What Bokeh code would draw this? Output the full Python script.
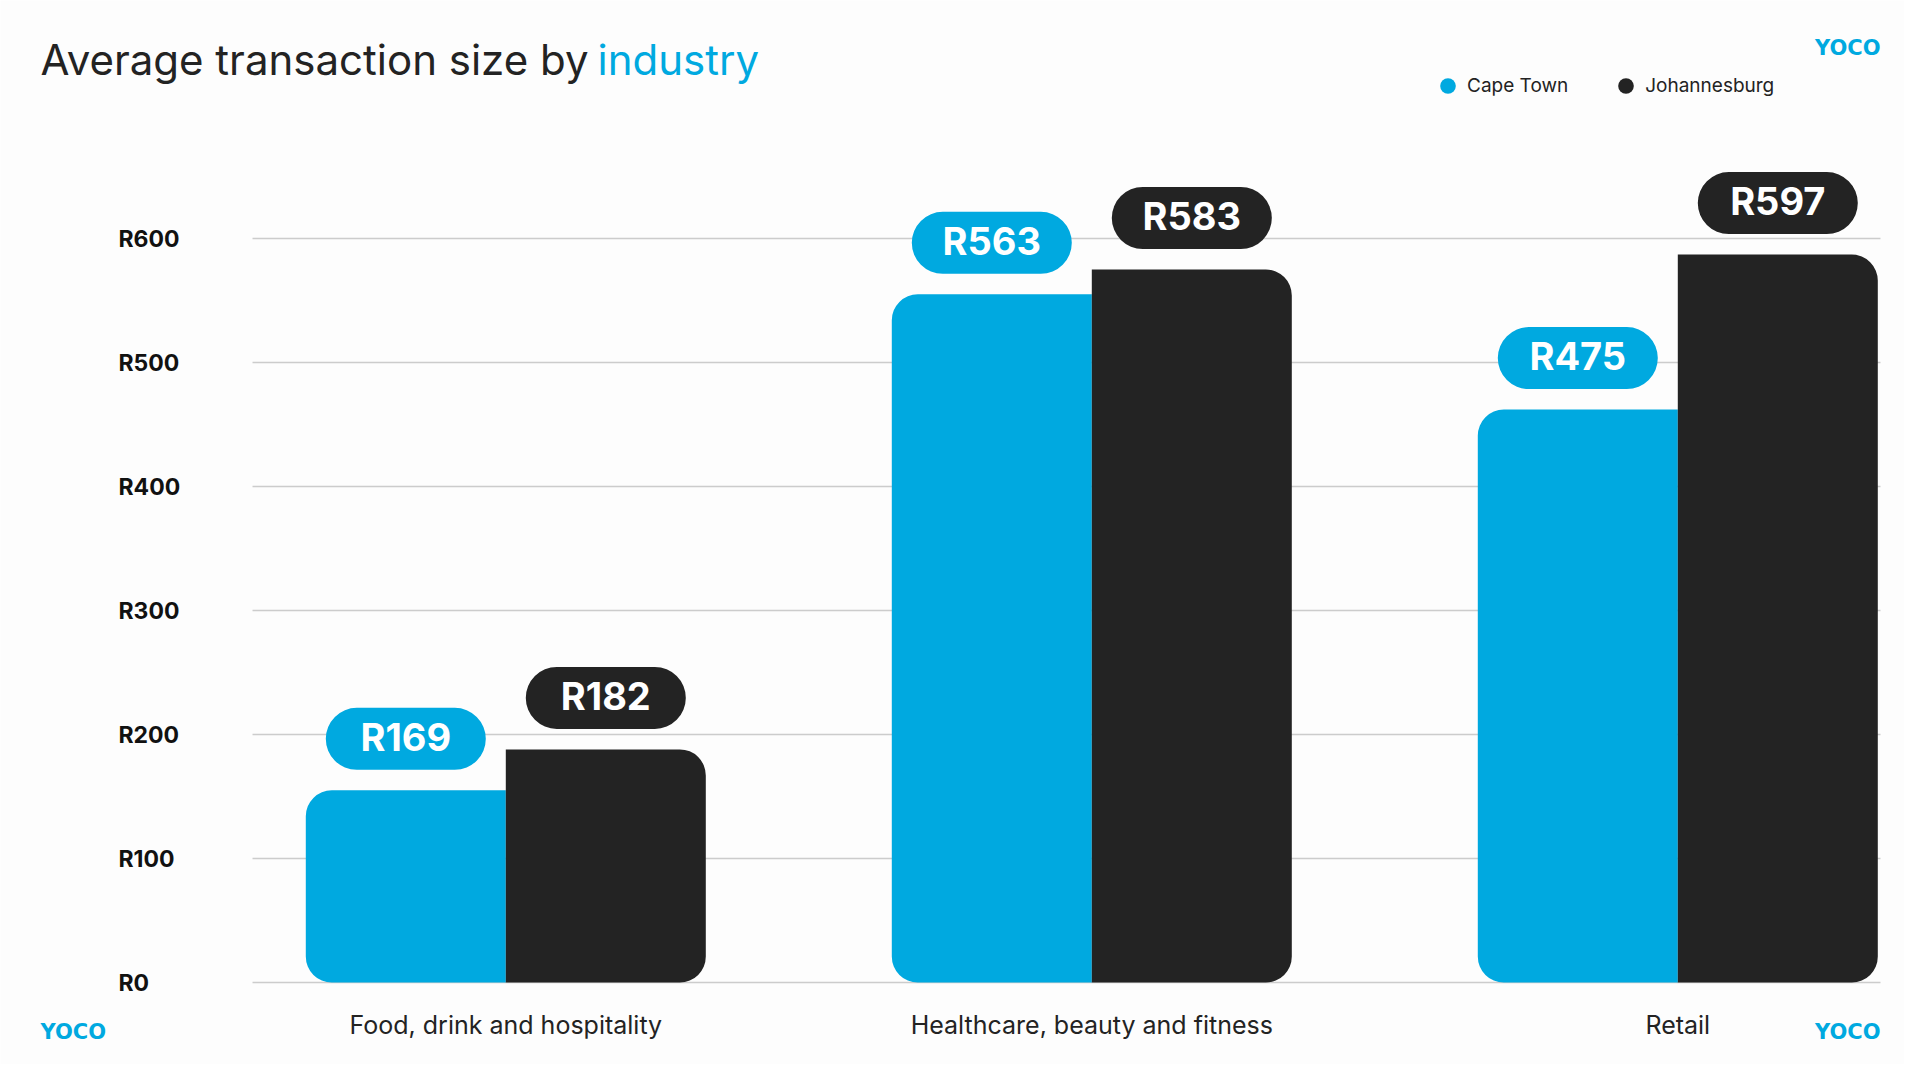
from bokeh.plotting import figure
from bokeh.models import (Range1d, FixedTicker, Label, Legend, LegendItem,
                          ColumnDataSource, Grid)
from bokeh.transform import dodge
from bokeh.core.properties import value
from bokeh.embed import file_html
from bokeh.resources import INLINE

# ---------------- data ----------------
categories = ["Food, drink and hospitality", "Healthcare, beauty and fitness", "Retail"]
series = ["Cape Town", "Johannesburg"]
cape_town = [155, 555, 462]          # bar heights as drawn
johannesburg = [188, 575, 587]
cape_town_labels = ["R169", "R563", "R475"]
johannesburg_labels = ["R182", "R583", "R597"]
y_ticks = [0, 100, 200, 300, 400, 500, 600]
y_tick_labels = ["R0", "R100", "R200", "R300", "R400", "R500", "R600"]
title_main = "Average transaction size by"
title_accent = "industry"
brand = "YOCO"

# ---------------- styles / geometry ----------------
BLUE = "#00a9e0"
DARK = "#232323"
BG = "#fdfdfd"
FONT = "Inter"

W, H = 1904, 1064
PX_X = 586.0                 # px per category step
PX_Y = 1.24                  # px per rand
ZERO_X = 505.3               # canvas px of first category centre
ZERO_Y = 982.0               # canvas px of R0


def X(px):
    return (px - ZERO_X) / PX_X


def Y(py):
    return (ZERO_Y - py) / PX_Y


BAR_W = 200 / PX_X
OFF = BAR_W / 2
PILL_W = 160 / PX_X
PILL_GAP = 20.5 / PX_Y
PILL_H = 62 / PX_Y
TEXT_UP = (20.5 + 31 + 2) / PX_Y

idx = list(range(len(categories)))
src = ColumnDataSource(dict(
    x=idx,
    ct=cape_town,
    jb=johannesburg,
    ct_lab=cape_town_labels,
    jb_lab=johannesburg_labels,
    ct_pb=[v + PILL_GAP for v in cape_town],
    ct_pt=[v + PILL_GAP + PILL_H for v in cape_town],
    ct_ty=[v + TEXT_UP for v in cape_town],
    jb_pb=[v + PILL_GAP for v in johannesburg],
    jb_pt=[v + PILL_GAP + PILL_H for v in johannesburg],
    jb_ty=[v + TEXT_UP for v in johannesburg],
))

p = figure(width=W, height=H, output_backend="svg", toolbar_location=None,
           x_range=Range1d(X(0), X(W)), y_range=Range1d(Y(H), Y(0)),
           min_border_left=0, min_border_right=0, min_border_top=0,
           min_border_bottom=0)
p.background_fill_color = BG
p.border_fill_color = BG
p.outline_line_color = None
p.xaxis.visible = False
p.yaxis.visible = False
p.xgrid.visible = False
p.yaxis.ticker = FixedTicker(ticks=y_ticks)

# horizontal grid lines, from x=252 to x=1880
p.ygrid.ticker = FixedTicker(ticks=y_ticks)
p.ygrid.grid_line_color = "#cccccc"
p.ygrid.grid_line_width = 1.5
if "cross_bounds" in Grid.properties():
    p.ygrid.cross_bounds = (X(252), X(1880))
else:
    p.ygrid.visible = False
    p.segment(x0=[X(252)] * len(y_ticks), x1=[X(1880)] * len(y_ticks),
              y0=y_ticks, y1=y_ticks, line_color="#cccccc", line_width=1.5,
              level="underlay")

# y tick labels
p.text(x=[X(118)] * len(y_ticks), y=y_ticks, text=y_tick_labels,
       text_font=value(FONT), text_font_style="bold", text_font_size="23px",
       text_color="#111111", text_align="left", text_baseline="middle")

# category labels
p.text(x=idx, y=[Y(1024.5)] * len(idx), text=categories,
       text_font=value(FONT), text_font_size="25px", text_color=DARK,
       text_align="center", text_baseline="middle")

# bars
p.vbar(x=dodge("x", -OFF, range=p.x_range), top="ct", bottom=0, width=BAR_W,
       source=src, fill_color=BLUE, line_color=None, border_radius=(26, 0, 0, 26))
p.vbar(x=dodge("x", OFF, range=p.x_range), top="jb", bottom=0, width=BAR_W,
       source=src, fill_color=DARK, line_color=None, border_radius=(0, 26, 26, 0))

# value pills
p.vbar(x=dodge("x", -OFF, range=p.x_range), top="ct_pt", bottom="ct_pb", width=PILL_W,
       source=src, fill_color=BLUE, line_color=None, border_radius=31)
p.vbar(x=dodge("x", OFF, range=p.x_range), top="jb_pt", bottom="jb_pb", width=PILL_W,
       source=src, fill_color=DARK, line_color=None, border_radius=31)
for col_x, col_y, col_t in ((-OFF, "ct_ty", "ct_lab"), (OFF, "jb_ty", "jb_lab")):
    p.text(x=dodge("x", col_x, range=p.x_range), y=col_y, text=col_t, source=src,
           text_font=value(FONT), text_font_style="bold", text_font_size="38px",
           text_color="white", text_align="center", text_baseline="middle")

# title
p.add_layout(Label(x=X(40), y=Y(59), text=title_main, text_font=FONT,
                   text_font_size="42px", text_color=DARK, text_baseline="middle"))
p.add_layout(Label(x=X(597), y=Y(59), text=title_accent, text_font=FONT,
                   text_font_size="42px", text_color=BLUE, text_baseline="middle"))

# brand marks
for bx, by, al in ((1880, 47, "right"), (40, 1031, "left"), (1880, 1031, "right")):
    p.add_layout(Label(x=X(bx), y=Y(by), text=brand, text_font="DejaVu Sans",
                       text_font_style="bold", text_font_size="21px",
                       text_color=BLUE, text_align=al, text_baseline="middle"))

# legend (dots)
ct_leg = p.scatter(x=idx, y=cape_town, marker="circle", size=0,
                   fill_color=BLUE, line_color=None)
jb_leg = p.scatter(x=idx, y=johannesburg, marker="circle", size=0,
                   fill_color=DARK, line_color=None)
legend = Legend(items=[LegendItem(label=series[0], renderers=[ct_leg], index=0),
                       LegendItem(label=series[1], renderers=[jb_leg], index=0)],
                orientation="horizontal", location=(1428, H - 105),
                glyph_width=39, glyph_height=39, label_standoff=0, spacing=38,
                padding=0, margin=0, border_line_color=None,
                background_fill_alpha=0, label_text_font=FONT,
                label_text_font_size="19px", label_text_color=DARK)
p.add_layout(legend)

open("out.html", "w").write(file_html(p, INLINE))
